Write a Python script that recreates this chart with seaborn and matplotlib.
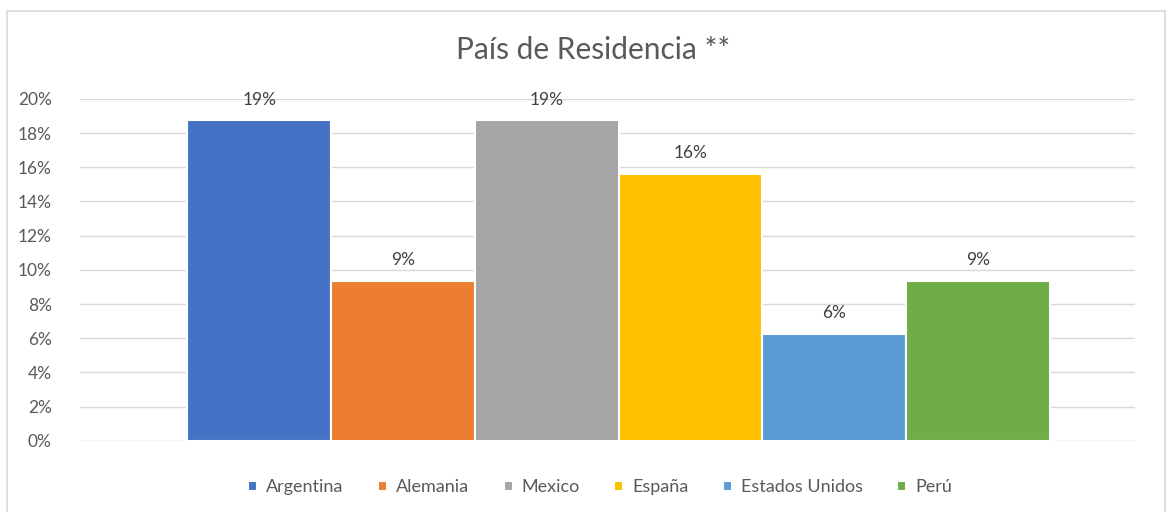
import matplotlib
matplotlib.use("Agg")
import matplotlib.pyplot as plt
import seaborn as sns
import pandas as pd
from matplotlib.patches import Rectangle

# data
paises = ["Argentina", "Alemania", "Mexico", "España", "Estados Unidos", "Perú"]
porcentajes = [18.75, 9.375, 18.75, 15.625, 6.25, 9.375]
etiquetas = ["19%", "9%", "19%", "16%", "6%", "9%"]
colores = ["#4472C4", "#ED7D31", "#A5A5A5", "#FFC000", "#5B9BD5", "#70AD47"]
yticks = list(range(0, 21, 2))

df = pd.DataFrame({"grupo": ["Total"] * len(paises), "pais": paises, "valor": porcentajes})

sns.set_style("white")
plt.rcParams["font.family"] = ["Lato", "DejaVu Sans"]

fig = plt.figure(figsize=(11.7, 5.12), dpi=100)
ax = fig.add_axes([0.068, 0.139, 0.902, 0.668])

sns.barplot(data=df, x="grupo", y="valor", hue="pais", hue_order=paises,
            palette=colores, width=0.8, edgecolor="white", linewidth=1.5,
            saturation=1, ax=ax, legend=True)

for cont, lab in zip(ax.containers, etiquetas):
    ax.bar_label(cont, labels=[lab], padding=9, fontsize=12.5, color="#404040")

ax.set_xlim(-0.5, 0.479)
ax.set_ylim(0, 20)
ax.set_yticks(yticks)
ax.set_yticklabels([f"{t}%" for t in yticks], fontsize=12.5, color="#595959")
ax.set_xticks([])
ax.set_xlabel("")
ax.set_ylabel("")
ax.tick_params(axis="y", length=0, pad=20)
ax.yaxis.grid(True, color="#D9D9D9", linewidth=1)
ax.set_axisbelow(True)
for s in ax.spines.values():
    s.set_visible(False)

fig.text(0.507, 0.902, "País de Residencia **", ha="center", va="center",
         fontsize=21.5, color="#595959")

handles, labels = ax.get_legend_handles_labels()
ax.legend_.remove()
fig.legend(handles, labels, loc="center", bbox_to_anchor=(0.513, 0.048), ncol=6,
           frameon=False, fontsize=13, handlelength=0.5, handleheight=0.5,
           handletextpad=0.5, columnspacing=1.9, labelcolor="#595959")

fig.add_artist(Rectangle((0.006, -0.01), 0.99, 0.988, transform=fig.transFigure,
                         fill=False, edgecolor="#D9D9D9", linewidth=1.2))

fig.savefig("out.png", dpi=100)
